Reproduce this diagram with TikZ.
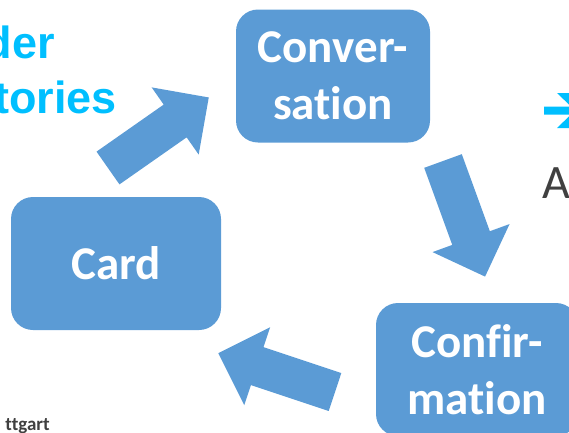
\documentclass[tikz,border=0pt]{standalone}
\usepackage{fontspec}
\usepackage{tikz}
\usepackage{xcolor}
\newfontfamily\calibri[RawFeature=-liga]{Carlito}
\newfontfamily\arial{Liberation Sans}
\definecolor{boxblue}{HTML}{5B9BD5}
\definecolor{titlecyan}{HTML}{00BFFF}
\definecolor{darktext}{HTML}{404040}

\tikzset{
  stage/.style={rectangle, rounded corners=22pt, fill=boxblue, text=white,
    inner sep=0pt, minimum height=133pt, align=center,
    font=\calibri\bfseries\fontsize{47}{57}\selectfont},
  title/.style={inner sep=0pt, anchor=base east, text=titlecyan,
    font=\arial\bfseries\fontsize{45}{55}\selectfont},
  cyclearrow/.pic={
    \fill[boxblue] (0,-20) -- (82,-20) -- (82,-41) -- (123,0) -- (82,41) -- (82,20) -- (0,20) -- cycle;
  }
}

\begin{document}
\begin{tikzpicture}[x=1pt,y=-1pt]
\useasboundingbox (0,0) rectangle (569,432);
\clip (0,0) rectangle (569,432);
% heading, cut at the left
\node[title] (head1) at (55,58) {der};
\node[title] (head2) at (117,113) {tories};
% the three stages
\node[stage, minimum width=194pt] (conv) at (333,76) {Conver-\\sation};
\node[stage, minimum width=210pt] (card) at (116,263.5) {Card};
\node[stage, minimum width=202pt] (confirm) at (477,369.5) {Confir-\\mation};
% block arrows round the cycle
\pic[rotate=35] at (108,168) {cyclearrow};
\pic[rotate=-70] at (443,161) {cyclearrow};
\pic[rotate=161.6] at (335,392) {cyclearrow};
% bullet arrow and text on the right
\fill[titlecyan] (544,106.5) -- (571,106.5) -- (557,93) -- (575,93) -- (592,110.5)
  -- (575,128) -- (557,128) -- (571,114.5) -- (544,114.5) -- cycle;
\node[inner sep=0pt, anchor=base west, text=darktext,
  font=\calibri\fontsize{48}{56}\selectfont] (more) at (542,198) {A};
% footer
\node[inner sep=0pt, anchor=base east, text=darktext,
  font=\calibri\bfseries\fontsize{19}{22}\selectfont] (foot) at (50,430) {ttgart};
\end{tikzpicture}
\end{document}
